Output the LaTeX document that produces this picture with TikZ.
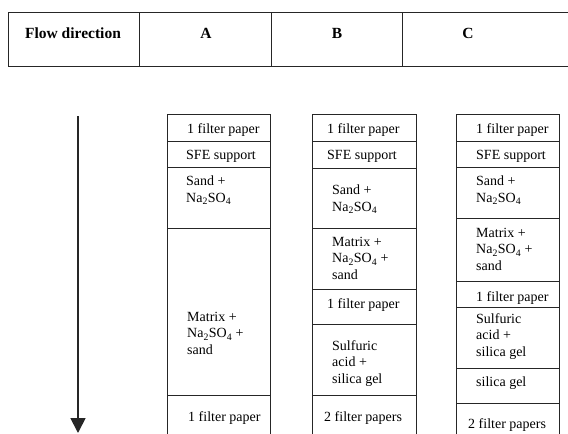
\documentclass[tikz,border=0pt]{standalone}
\usepackage{fontspec}
\setmainfont{Liberation Serif}
\usepackage{xcolor}
\usetikzlibrary{arrows.meta}
\definecolor{rule}{HTML}{262626}
\newcommand{\NaS}{Na\textsubscript{2}SO\textsubscript{4}}
\tikzset{
  cell/.style={rule,line width=0.9pt},
  txt/.style={anchor=north west,inner sep=0pt,align=left,font=\fontsize{14}{16.5}\selectfont},
  head/.style={inner sep=0pt,font=\fontsize{15.5}{18}\selectfont\bfseries},
}

\begin{document}
\begin{tikzpicture}[x=1pt,y=-1pt]
\useasboundingbox (0,0) rectangle (568,434);
% header row
\draw[cell] (570,12) -- (8,12) -- (8,66) -- (570,66);
\foreach \x in {139,271,402}
  \draw[cell] (\x,12) -- (\x,66);
\node[head] (hflow) at (73,33) {Flow direction};
\node[head] (ha) at (206,33) {A};
\node[head] (hb) at (337,33) {B};
\node[head] (hc) at (468,33) {C};

% flow arrow
\coordinate (flowtop) at (78,116);
\coordinate (flowend) at (78,433);
\draw[rule,line width=1.8pt,-{Triangle[width=15pt,length=15pt]}] (flowtop) -- (flowend);

% column A
\draw[cell] (167,440) -- (167,114) -- (270,114) -- (270,440);
\foreach \y in {141,167,228,395}
  \draw[cell] (167,\y) -- (270,\y);
\node[txt] (a1) at (187,123) {1 filter paper};
\node[txt] (a2) at (186,150) {SFE support};
\node[txt] (a3) at (186,176) {Sand +\\\NaS};
\node[txt] (a4) at (187,312) {Matrix +\\\NaS{} +\\sand};
\node[txt] (a5) at (188,411) {1 filter paper};

% column B
\draw[cell] (312,440) -- (312,114) -- (416,114) -- (416,440);
\foreach \y in {141,168,228,289,324,395}
  \draw[cell] (312,\y) -- (416,\y);
\node[txt] (b1) at (327,123) {1 filter paper};
\node[txt] (b2) at (327,150) {SFE support};
\node[txt] (b3) at (332,185) {Sand +\\\NaS};
\node[txt] (b4) at (332,237) {Matrix +\\\NaS{} +\\sand};
\node[txt] (b5) at (327,298) {1 filter paper};
\node[txt] (b6) at (332,340) {Sulfuric\\acid +\\silica gel};
\node[txt] (b7) at (324,411) {2 filter papers};

% column C
\draw[cell] (456,440) -- (456,114) -- (559,114) -- (559,440);
\foreach \y in {141,167,218,281,307,368,403}
  \draw[cell] (456,\y) -- (559,\y);
\node[txt] (c1) at (476,123) {1 filter paper};
\node[txt] (c2) at (476,150) {SFE support};
\node[txt] (c3) at (476,176) {Sand +\\\NaS};
\node[txt] (c4) at (476,228) {Matrix +\\\NaS{} +\\sand};
\node[txt] (c5) at (476,291) {1 filter paper};
\node[txt] (c6) at (476,313) {Sulfuric\\acid +\\silica gel};
\node[txt] (c7) at (476,377) {silica gel};
\node[txt] (c8) at (468,418) {2 filter papers};
\end{tikzpicture}
\end{document}
